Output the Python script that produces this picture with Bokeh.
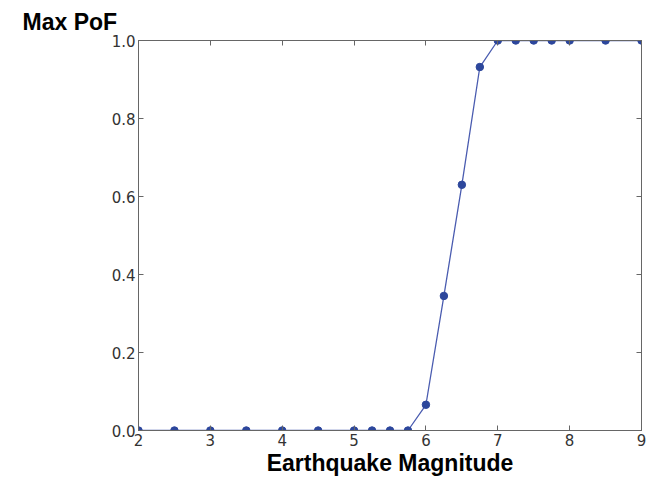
from bokeh.plotting import figure
from bokeh.models import LinearAxis, Range1d, FixedTicker, PrintfTickFormatter
from bokeh.embed import file_html
from bokeh.resources import INLINE

# Data
magnitude = [2, 2.5, 3, 3.5, 4, 4.5, 5, 5.25, 5.5, 5.75, 6, 6.25, 6.5, 6.75,
             7, 7.25, 7.5, 7.75, 8, 8.5, 9]
max_pof = [0, 0, 0, 0, 0, 0, 0, 0, 0, 0, 0.066, 0.345, 0.63, 0.932,
           1, 1, 1, 1, 1, 1, 1]
x_ticks = [2, 3, 4, 5, 6, 7, 8, 9]
y_ticks = [0.0, 0.2, 0.4, 0.6, 0.8, 1.0]

frame_col = "#666666"
tick_col = "#333333"

p = figure(width=648, height=478, output_backend="svg", toolbar_location=None,
           x_range=Range1d(2, 9), y_range=Range1d(0, 1),
           min_border_left=138, min_border_right=7, min_border_top=40,
           min_border_bottom=47)

p.title.text = "Max PoF"
p.title.align = "left"
p.title.offset = -116
p.title.text_font = "Liberation Sans"
p.title.text_font_size = "23px"
p.title.text_font_style = "bold"
p.title.text_color = "#000000"
p.title.standoff = 11

p.grid.visible = False
p.outline_line_color = frame_col
p.outline_line_width = 1
p.background_fill_color = "white"
p.border_fill_color = "white"

p.xaxis.ticker = FixedTicker(ticks=x_ticks)
p.yaxis.ticker = FixedTicker(ticks=y_ticks)
p.yaxis.formatter = PrintfTickFormatter(format="%.1f")

for ax in (p.xaxis[0], p.yaxis[0]):
    ax.major_tick_in = 5
    ax.major_tick_out = 0
    ax.minor_tick_line_color = None
    ax.axis_line_color = frame_col
    ax.major_tick_line_color = frame_col
    ax.major_label_text_font = "DejaVu Sans"
    ax.major_label_text_font_size = "15px"
    ax.major_label_text_color = tick_col
    ax.major_label_standoff = 3

p.xaxis.axis_label = "Earthquake Magnitude"
p.xaxis.axis_label_text_font = "Liberation Sans"
p.xaxis.axis_label_text_font_size = "23px"
p.xaxis.axis_label_text_font_style = "bold"
p.xaxis.axis_label_text_color = "#000000"
p.xaxis.axis_label_standoff = 1

# mirrored inward ticks on top and right (labels not drawn)
top = LinearAxis(ticker=FixedTicker(ticks=x_ticks))
right = LinearAxis(ticker=FixedTicker(ticks=y_ticks))
for ax in (top, right):
    ax.major_tick_in = 5
    ax.major_tick_out = 0
    ax.minor_tick_line_color = None
    ax.axis_line_color = frame_col
    ax.major_tick_line_color = frame_col
    ax.major_label_text_font_size = "1px"
    ax.major_label_text_color = None
    ax.major_label_standoff = 0
p.add_layout(top, "above")
p.add_layout(right, "right")

p.line(magnitude, max_pof, line_color="#4a5cb0", line_width=1.3)
p.scatter(magnitude, max_pof, size=7.5, fill_color="#2d479c",
          line_color="#2d479c")

open("out.html", "w").write(file_html(p, INLINE))
